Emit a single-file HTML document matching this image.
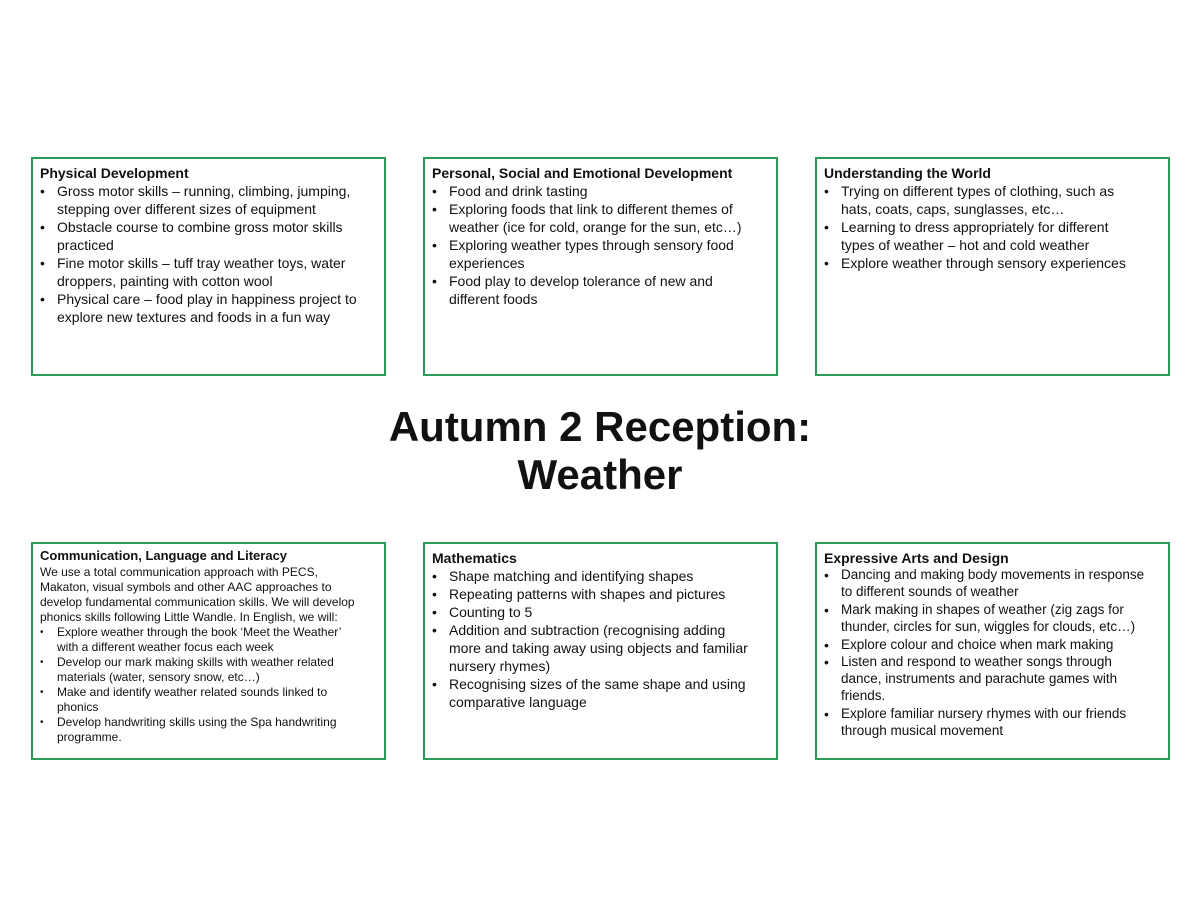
<!DOCTYPE html>
<html><head><meta charset="utf-8"><style>
body{margin:0;width:1200px;height:900px;background:#fff;position:relative;font-family:"Liberation Sans",sans-serif;color:#111;overflow:hidden}
.box{position:absolute;width:355px;height:219px;border:2px solid #2e9a5a;box-sizing:border-box}
.t{position:absolute;left:7px;font-weight:bold;font-size:14px;white-space:nowrap;line-height:18px}
.l{position:absolute;left:24px;font-size:14px;white-space:nowrap;line-height:18px}
.b{position:absolute;left:7px;font-size:14px;line-height:18px}
.s{font-size:12px;line-height:15px}
.sb{font-size:10px;line-height:15px}
.title{position:absolute;left:0;width:1200px;top:403px;text-align:center;font-weight:bold;font-size:42px;line-height:48px}
</style></head><body>

<div class="box" style="left:31px;top:157px">
<div class="t" style="top:5px">Physical Development</div>
<div class="b" style="top:23px">•</div><div class="l" style="top:23px">Gross motor skills – running, climbing, jumping,</div>
<div class="l" style="top:41px">stepping over different sizes of equipment</div>
<div class="b" style="top:59px">•</div><div class="l" style="top:59px">Obstacle course to combine gross motor skills</div>
<div class="l" style="top:77px">practiced</div>
<div class="b" style="top:95px">•</div><div class="l" style="top:95px">Fine motor skills – tuff tray weather toys, water</div>
<div class="l" style="top:113px">droppers, painting with cotton wool</div>
<div class="b" style="top:131px">•</div><div class="l" style="top:131px">Physical care – food play in happiness project to</div>
<div class="l" style="top:149px">explore new textures and foods in a fun way</div>
</div>

<div class="box" style="left:423px;top:157px">
<div class="t" style="top:5px">Personal, Social and Emotional Development</div>
<div class="b" style="top:23px">•</div><div class="l" style="top:23px">Food and drink tasting</div>
<div class="b" style="top:41px">•</div><div class="l" style="top:41px">Exploring foods that link to different themes of</div>
<div class="l" style="top:59px">weather (ice for cold, orange for the sun, etc…)</div>
<div class="b" style="top:77px">•</div><div class="l" style="top:77px">Exploring weather types through sensory food</div>
<div class="l" style="top:95px">experiences</div>
<div class="b" style="top:113px">•</div><div class="l" style="top:113px">Food play to develop tolerance of new and</div>
<div class="l" style="top:131px">different foods</div>
</div>

<div class="box" style="left:815px;top:157px">
<div class="t" style="top:5px">Understanding the World</div>
<div class="b" style="top:23px">•</div><div class="l" style="top:23px">Trying on different types of clothing, such as</div>
<div class="l" style="top:41px">hats, coats, caps, sunglasses, etc…</div>
<div class="b" style="top:59px">•</div><div class="l" style="top:59px">Learning to dress appropriately for different</div>
<div class="l" style="top:77px">types of weather – hot and cold weather</div>
<div class="b" style="top:95px">•</div><div class="l" style="top:95px">Explore weather through sensory experiences</div>
</div>

<div class="title">Autumn 2 Reception:<br>Weather</div>

<div class="box" style="left:31px;top:542px;height:218px">
<div class="t" style="top:3px;font-size:13px">Communication, Language and Literacy</div>
<div class="t s" style="top:21px;font-weight:normal">We use a total communication approach with PECS,</div>
<div class="t s" style="top:36px;font-weight:normal">Makaton, visual symbols and other AAC approaches to</div>
<div class="t s" style="top:51px;font-weight:normal">develop fundamental communication skills. We will develop</div>
<div class="t s" style="top:66px;font-weight:normal">phonics skills following Little Wandle. In English, we will:</div>
<div class="b sb" style="top:81px">•</div><div class="l s" style="top:81px">Explore weather through the book ‘Meet the Weather’</div>
<div class="l s" style="top:96px">with a different weather focus each week</div>
<div class="b sb" style="top:111px">•</div><div class="l s" style="top:111px">Develop our mark making skills with weather related</div>
<div class="l s" style="top:126px">materials (water, sensory snow, etc…)</div>
<div class="b sb" style="top:141px">•</div><div class="l s" style="top:141px">Make and identify weather related sounds linked to</div>
<div class="l s" style="top:156px">phonics</div>
<div class="b sb" style="top:171px">•</div><div class="l s" style="top:171px">Develop handwriting skills using the Spa handwriting</div>
<div class="l s" style="top:186px">programme.</div>
</div>

<div class="box" style="left:423px;top:542px;height:218px">
<div class="t" style="top:5px">Mathematics</div>
<div class="b" style="top:23px">•</div><div class="l" style="top:23px">Shape matching and identifying shapes</div>
<div class="b" style="top:41px">•</div><div class="l" style="top:41px">Repeating patterns with shapes and pictures</div>
<div class="b" style="top:59px">•</div><div class="l" style="top:59px">Counting to 5</div>
<div class="b" style="top:77px">•</div><div class="l" style="top:77px">Addition and subtraction (recognising adding</div>
<div class="l" style="top:95px">more and taking away using objects and familiar</div>
<div class="l" style="top:113px">nursery rhymes)</div>
<div class="b" style="top:131px">•</div><div class="l" style="top:131px">Recognising sizes of the same shape and using</div>
<div class="l" style="top:149px">comparative language</div>
</div>

<div class="box" style="left:815px;top:542px;height:218px">
<div class="t" style="top:5px">Expressive Arts and Design</div>
<div class="b" style="top:22px">•</div><div class="l" style="top:22px;font-size:13.5px">Dancing and making body movements in response</div>
<div class="l" style="top:39px;font-size:13.5px">to different sounds of weather</div>
<div class="b" style="top:57px">•</div><div class="l" style="top:57px;font-size:13.5px">Mark making in shapes of weather (zig zags for</div>
<div class="l" style="top:74px;font-size:13.5px">thunder, circles for sun, wiggles for clouds, etc…)</div>
<div class="b" style="top:92px">•</div><div class="l" style="top:92px;font-size:13.5px">Explore colour and choice when mark making</div>
<div class="b" style="top:109px">•</div><div class="l" style="top:109px;font-size:13.5px">Listen and respond to weather songs through</div>
<div class="l" style="top:126px;font-size:13.5px">dance, instruments and parachute games with</div>
<div class="l" style="top:143px;font-size:13.5px">friends.</div>
<div class="b" style="top:161px">•</div><div class="l" style="top:161px;font-size:13.5px">Explore familiar nursery rhymes with our friends</div>
<div class="l" style="top:178px;font-size:13.5px">through musical movement</div>
</div>

</body></html>
